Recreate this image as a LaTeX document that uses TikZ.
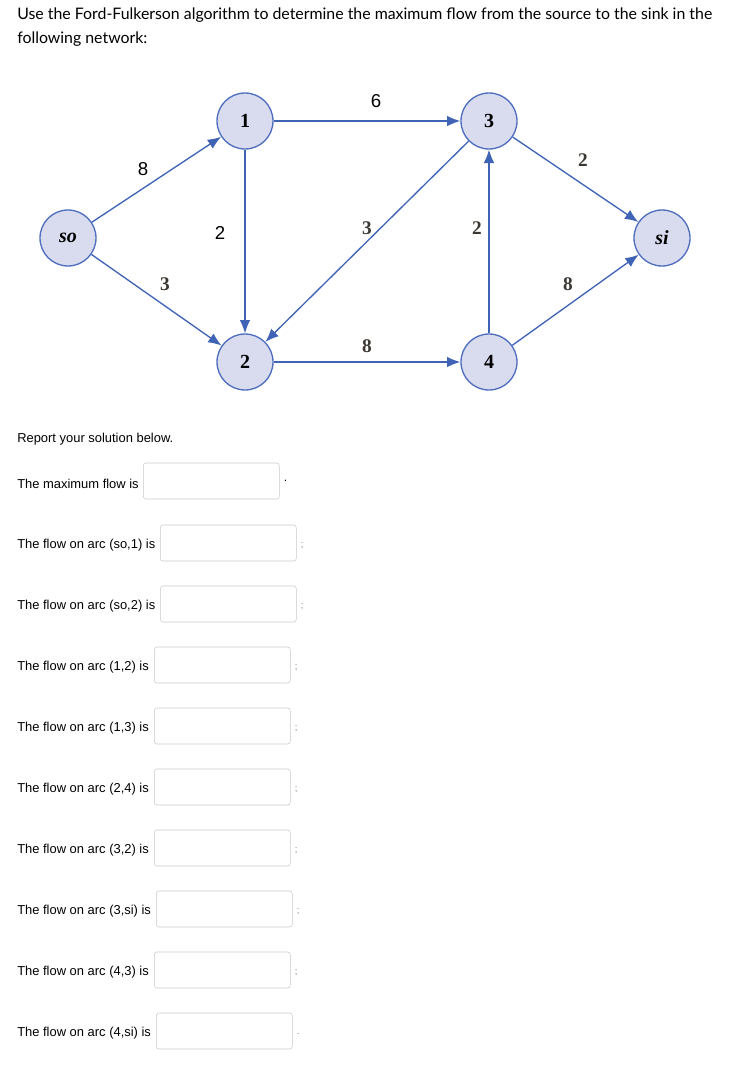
\documentclass[tikz,border=0pt]{standalone}
\usepackage{fontspec}
\setmainfont{Liberation Sans}
\newfontfamily\latofont{Lato}
\newfontfamily\serifnum{Liberation Serif}
\begin{document}
\begin{tikzpicture}[x=0.75pt,y=-0.75pt,
  vert/.style={circle,draw={rgb,255:red,80;green,110;blue,190},fill={rgb,255:red,217;green,220;blue,238},line width=1pt,minimum size=42pt,inner sep=0pt,font=\serifnum\fontsize{15}{15}\selectfont\bfseries},
  arc/.style={draw={rgb,255:red,63;green,99;blue,181},line width=1pt,-{Latex[length=10pt,width=8pt]}},
  sanslbl/.style={font=\fontsize{14}{14}\selectfont},
  seriflbl/.style={font=\serifnum\fontsize{14.5}{14}\selectfont\bfseries,text={rgb,255:red,60;green,55;blue,50}},
  ans/.style={draw={rgb,255:red,200;green,200;blue,200},rounded corners=2pt,minimum width=102pt,minimum height=27pt,inner sep=0pt},
  q/.style={anchor=west,font=\fontsize{9.7}{11}\selectfont,inner sep=0pt}]
\usetikzlibrary{arrows.meta}
\useasboundingbox (0,0) rectangle (731,1071);
\node[anchor=north west,align=left,font=\latofont\fontsize{11.9}{17.5}\selectfont,inner sep=0pt] (hdr) at (17,8)
 {Use the Ford-Fulkerson algorithm to determine the maximum flow from the source to the sink in the\\following network:};
\node[vert] (so) at (68,238) {\itshape so};
\node[vert] (n1) at (245,121) {1};
\node[vert] (n2) at (245,362) {2};
\node[vert] (n3) at (489,121) {3};
\node[vert] (n4) at (489,362) {4};
\node[vert] (si) at (662,238) {\itshape si};
\draw[arc] (so) -- (n1);
\draw[arc] (so) -- (n2);
\draw[arc] (n1) -- (n2);
\draw[arc] (n1) -- (n3);
\draw[arc] (n3) -- (n2);
\draw[arc] (n2) -- (n4);
\draw[arc] (n4) -- (n3);
\draw[arc] (n3) -- (si);
\draw[arc] (n4) -- (si);
\node[sanslbl] (l1) at (143,169) {8};
\node[seriflbl] (l2) at (165,284) {3};
\node[sanslbl] (l3) at (220,233) {2};
\node[sanslbl] (l4) at (376,101) {6};
\node[seriflbl] (l5) at (367,228) {3};
\node[seriflbl] (l6) at (367,346) {8};
\node[seriflbl] (l7) at (477,228) {2};
\node[seriflbl] (l8) at (583,160) {2};
\node[seriflbl] (l9) at (568,284) {8};
\node[q] (rep) at (17,439) {Report your solution below.};
\node[q] (t0) at (17,484) {The maximum flow is};
\node[ans,anchor=west] (b0) at (143,481) {};
\node[anchor=west,inner sep=0pt,font=\small] (p0) at ([xshift=3pt]b0.east) {.};
\foreach \i/\txt/\x/\p/\y in {1/{(so,1)}/160/;/545, 2/{(so,2)}/160/;/606, 3/{(1,2)}/154/;/667, 4/{(1,3)}/154/;/728, 5/{(2,4)}/154/;/789, 6/{(3,2)}/154/;/850, 7/{(3,si)}/156/;/911, 8/{(4,3)}/154/;/972, 9/{(4,si)}/156/./1033}{
  \node[q] (t\i) at (17,\y) {The flow on arc \txt\ is};
  \node[ans,anchor=west] (b\i) at (\x,\y-2) {};
  \node[anchor=west,inner sep=0pt,font=\scriptsize,text=gray] (p\i) at ([xshift=3pt,yshift=-2pt]b\i.east) {\p};
}
\end{tikzpicture}
\end{document}
